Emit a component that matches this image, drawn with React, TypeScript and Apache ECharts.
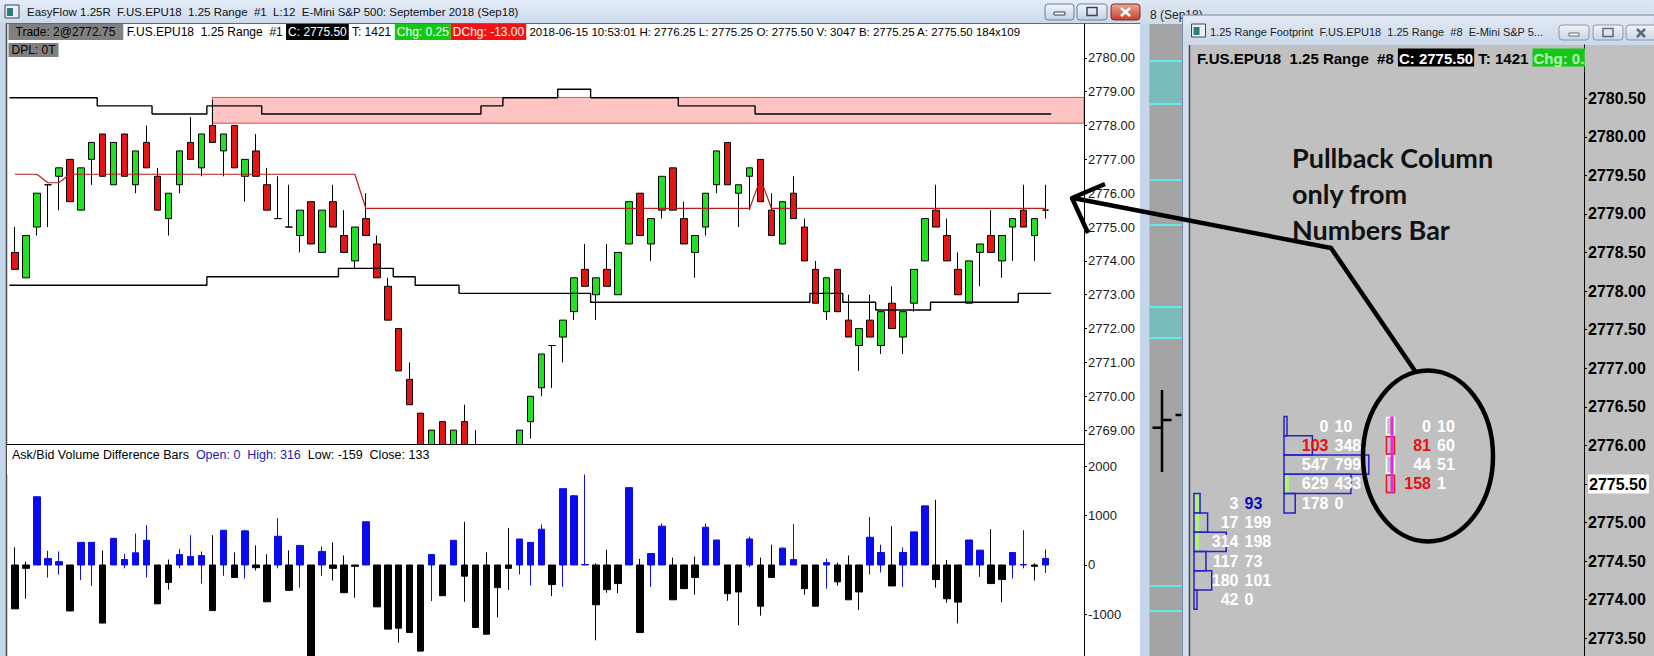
import React, { useEffect, useRef } from "react";
import * as echarts from "echarts";

// ================= DATA =================
// 1.25 range bars (main chart)
const OPEN = [2774.25, 2773.5, 2775.0, 2776.25, 2776.5, 2777.0, 2775.5, 2777.0, 2777.75, 2776.25,
  2777.75, 2776.25, 2777.5, 2776.5, 2775.25, 2776.25, 2777.5, 2776.75, 2778.0, 2777.25,
  2778.0, 2776.5, 2777.25, 2776.25, 2775.25, 2775.0, 2774.75, 2775.75, 2774.25, 2775.75,
  2774.75, 2774.0, 2775.25, 2774.5, 2773.25, 2772.0, 2770.5, 2769.5, 2768.0, 2769.25,
  2767.75, 2769.25, 2768.25, 2767.5, 2766.0, 2767.5, 2768.0, 2769.25, 2770.25, 2771.5,
  2771.75, 2772.5, 2773.75, 2773.0, 2773.75, 2773.0, 2774.5, 2776.0, 2774.5, 2775.5,
  2776.75, 2775.25, 2774.25, 2775.0, 2776.25, 2777.5, 2776.0, 2776.5, 2777.0, 2775.5,
  2774.5, 2776.0, 2775.0, 2773.75, 2772.5, 2773.75, 2772.25, 2771.5, 2772.25, 2771.5,
  2772.75, 2771.75, 2772.75, 2774.0, 2775.5, 2774.75, 2773.75, 2772.75, 2774.25, 2774.75,
  2774.0, 2775.0, 2775.5, 2774.75, 2775.5];
const CLOSE = [2773.75, 2774.75, 2776.0, 2776.25, 2776.75, 2775.75, 2776.75, 2777.5, 2776.5, 2777.5,
  2776.5, 2777.25, 2776.75, 2775.5, 2776.0, 2777.25, 2777.0, 2777.75, 2777.5, 2777.75,
  2776.75, 2777.0, 2776.5, 2775.5, 2775.25, 2775.0, 2775.5, 2774.5, 2775.5, 2775.0,
  2774.25, 2775.0, 2774.75, 2773.5, 2772.25, 2770.75, 2769.75, 2768.25, 2769.0, 2768.0,
  2769.0, 2768.5, 2767.75, 2766.25, 2767.25, 2768.5, 2769.0, 2770.0, 2771.25, 2771.5,
  2772.25, 2773.5, 2773.25, 2773.5, 2773.25, 2774.25, 2775.75, 2774.75, 2775.25, 2776.5,
  2775.5, 2774.5, 2774.75, 2776.0, 2777.25, 2776.25, 2776.25, 2776.75, 2775.75, 2774.75,
  2775.75, 2775.25, 2774.0, 2772.75, 2773.5, 2772.5, 2771.75, 2772.0, 2771.75, 2772.5,
  2772.0, 2772.5, 2773.75, 2775.25, 2775.0, 2774.0, 2773.0, 2774.0, 2774.5, 2774.25,
  2774.75, 2775.25, 2775.0, 2775.25, 2775.5];
const LOW = [2773.75, 2773.5, 2774.75, 2775.0, 2775.5, 2775.75, 2775.5, 2776.25, 2776.5, 2776.25,
  2776.5, 2776.0, 2776.75, 2775.5, 2774.75, 2776.0, 2777.0, 2776.5, 2777.5, 2776.5,
  2776.75, 2775.75, 2776.5, 2775.5, 2775.25, 2775.0, 2774.25, 2774.5, 2774.25, 2775.0,
  2774.25, 2773.75, 2774.75, 2773.5, 2772.25, 2770.75, 2769.75, 2768.25, 2767.75, 2768.0,
  2767.75, 2768.5, 2767.75, 2766.25, 2766.0, 2767.25, 2767.75, 2768.75, 2770.0, 2770.25,
  2771.0, 2772.25, 2773.25, 2772.25, 2773.25, 2773.0, 2774.5, 2774.75, 2774.0, 2775.25,
  2775.5, 2774.5, 2773.5, 2774.75, 2776.0, 2776.25, 2775.0, 2775.5, 2775.75, 2774.75,
  2774.5, 2775.25, 2774.0, 2772.75, 2772.25, 2772.5, 2771.75, 2770.75, 2771.75, 2771.25,
  2772.0, 2771.25, 2772.5, 2774.0, 2775.0, 2774.0, 2773.0, 2772.75, 2773.25, 2774.25,
  2773.5, 2774.0, 2775.0, 2774.0, 2775.25];
const HIGH = [2775.0, 2774.75, 2776.0, 2776.25, 2776.75, 2777.0, 2776.75, 2777.5, 2777.75, 2777.5,
  2777.75, 2777.25, 2778.0, 2776.75, 2776.0, 2777.25, 2778.25, 2777.75, 2778.75, 2777.75,
  2778.0, 2777.0, 2777.75, 2776.75, 2776.5, 2776.25, 2775.5, 2775.75, 2775.5, 2776.25,
  2775.5, 2775.0, 2776.0, 2774.75, 2773.5, 2772.0, 2771.0, 2769.5, 2769.0, 2769.25,
  2769.0, 2769.75, 2769.0, 2767.5, 2767.25, 2768.5, 2769.0, 2770.0, 2771.25, 2771.5,
  2772.25, 2773.5, 2774.5, 2773.5, 2774.5, 2774.25, 2775.75, 2776.0, 2775.25, 2776.5,
  2776.75, 2775.75, 2774.75, 2776.0, 2777.25, 2777.5, 2776.25, 2776.75, 2777.0, 2776.0,
  2775.75, 2776.5, 2775.25, 2774.0, 2773.5, 2773.75, 2773.0, 2772.0, 2773.0, 2772.5,
  2773.25, 2772.5, 2773.75, 2775.25, 2776.25, 2775.25, 2774.25, 2774.0, 2774.5, 2775.5,
  2774.75, 2775.25, 2776.25, 2775.25, 2776.25];

// overlay levels, stored as runs [level, number of bars]
const UPPER_BAND_RUNS = [[2778.82, 8], [2778.58, 5], [2778.34, 5], [2778.58, 5], [2778.34, 20], [2778.58, 2],
  [2778.82, 5], [2779.07, 3], [2778.82, 8], [2778.58, 7], [2778.34, 27]];
const LOWER_BAND_RUNS = [[2773.28, 18], [2773.53, 12], [2773.78, 5], [2773.53, 2], [2773.28, 4], [2773.04, 12],
  [2772.78, 20], [2773.04, 3], [2772.78, 3], [2772.55, 5], [2772.78, 8], [2773.04, 3]];
const MID_LINE_RUNS = [[2776.56, 3], [2776.31, 2], [2776.56, 27], [2775.55, 36], [2776.42, 1], [2775.55, 26]];
const ZONE_START_BAR = [18];
const ZONE_PRICES = [2778.83, 2778.07];

// Ask/Bid volume difference bars
const VD_CLOSE = [-890, -68, 1384, 130, 68, -932, 459, 459, -1178, 541,
  110, 247, 500, -788, -356, 212, 171, 192, -925, 705,
  -253, 692, -55, -747, 582, -514, 397, -1950, 274, -68,
  -562, -27, 877, -849, -1301, -1281, -1370, -1747, 212, -623,
  500, -226, -1267, -1404, -459, -68, 527, 459, 726, -397,
  1548, 1404, 10, -808, -500, -377, 1569, -1370, 233, 788,
  -706, -480, -253, 767, 507, -582, -548, 527, -836, -253,
  342, 110, -480, -836, 48, -342, -706, -548, 562, 253,
  -425, 253, 671, 1199, -295, -685, -753, 507, 301, -377,
  -295, 253, 10, -27, 133];
const VD_HIGH = [356, 68, 1384, 288, 274, 0, 459, 459, 295, 541,
  226, 637, 808, 0, 110, 329, 603, 274, 603, 705,
  253, 712, 397, 219, 952, 295, 397, 0, 377, 459,
  192, 0, 877, 0, 0, 0, 0, 0, 212, 0,
  500, 877, 0, 253, 0, 753, 527, 459, 822, 0,
  1548, 1418, 1836, 34, 308, 0, 1569, 123, 233, 842,
  151, 0, 171, 842, 507, 0, 0, 575, 151, 411,
  356, 829, 0, 0, 130, 48, 192, 0, 973, 411,
  788, 356, 671, 1199, 1322, 103, 0, 507, 301, 726,
  0, 253, 705, 34, 316];
const VD_LOW = [-890, -685, 0, -253, -192, -932, -308, -425, -1178, 0,
  -68, 0, -253, -788, -500, -68, 0, -377, -925, -219,
  -253, -274, -110, -747, -68, -514, -459, -1950, -219, -315,
  -562, -664, 0, -849, -1301, -1575, -1370, -1747, -733, -623,
  0, -747, -1267, -1404, -1062, -507, -192, -411, 0, -630,
  -445, 0, 0, -1528, -562, -569, 0, -1370, -445, 0,
  -706, -480, -603, 0, 0, -726, -1219, -41, -1028, -253,
  0, 0, -603, -836, -480, -418, -706, -911, -192, -151,
  -425, -445, 0, 0, -459, -767, -1185, 0, -240, -377,
  -753, -274, -68, -315, -159];

// tick labels
const PRICE_TICKS = [2769, 2770, 2771, 2772, 2773, 2774, 2775, 2776, 2777, 2778, 2779, 2780];
const VD_TICKS = [-1000, 0, 1000, 2000];
const FP_TICKS = [2773.5, 2774, 2774.5, 2775, 2775.5, 2776, 2776.5, 2777, 2777.5, 2778, 2778.5, 2779, 2779.5, 2780, 2780.5];

// footprint window (bid x ask per price)
const FP1_PRICES = [2775.25, 2775.0, 2774.75, 2774.5, 2774.25, 2774.0];
const FP1_BID = [3, 17, 314, 117, 180, 42];
const FP1_ASK = [93, 199, 198, 73, 101, 0];
const FP2_PRICES = [2776.25, 2776.0, 2775.75, 2775.5, 2775.25];
const FP2_BID = [0, 103, 547, 629, 178];
const FP2_ASK = [10, 348, 799, 433, 0];
const FP3_PRICES = [2776.25, 2776.0, 2775.75, 2775.5];
const FP3_BID = [0, 81, 44, 158];
const FP3_ASK = [10, 60, 51, 1];

// ================= LAYOUT / STYLE =================
const N = OPEN.length;
const SLOTS = 98;
const TICK = 0.25;
const VOL_PX = 0.063;
const FP_LEFT = 1190;
const FP_W = 394;
const FONT = '"Liberation Sans", Arial, sans-serif';
const UP = "#22e022";
const DOWN = "#e41515";
const VD_BLUE = "#0b0bf0";
const RED_TXT = "#e81010";
const BLUE_TXT = "#0a0ab8";

const expand = (runs: number[][]) => runs.flatMap(([v, n]) => Array(n).fill(v));
const stepPts = (vals: number[]) => vals.flatMap((v, i) => [[i - 0.5, v], [i + 0.5, v]]);
const f2 = (v: number) => v.toFixed(2);

function buildColumn(prices: number[], bids: number[], asks: number[], x: number, bar: number, pull: boolean) {
  return prices.map((p, i) => {
    const bidImb = bids[i] > 0 && i > 0 && bids[i] >= 3 * asks[i - 1];
    const askImb = asks[i] > 0 && i < prices.length - 1 && asks[i] >= 3 * bids[i + 1];
    let body = false;
    if (bar >= 0) {
      const lo = Math.min(OPEN[bar], CLOSE[bar]);
      const hi = Math.max(OPEN[bar], CLOSE[bar]);
      body = CLOSE[bar] >= OPEN[bar] && p >= lo && p <= hi;
    }
    return {
      price: p, bid: bids[i], ask: asks[i], x, pull, body,
      bidColor: bidImb ? RED_TXT : "#ffffff",
      askColor: askImb ? BLUE_TXT : "#ffffff",
    };
  });
}

function buildOption() {
  const cats = Array.from({ length: SLOTS }, (_, i) => String(i + 1));
  const candleData = OPEN.map((o, i) => [o, CLOSE[i], LOW[i], HIGH[i]]);
  const vdData = VD_CLOSE.map((c, i) => [0, c, VD_LOW[i], VD_HIGH[i]]);
  const upper = expand(UPPER_BAND_RUNS);
  const lower = expand(LOWER_BAND_RUNS);
  const mid = expand(MID_LINE_RUNS);
  const last = N - 1;
  const lastVol = FP2_BID.concat(FP2_ASK).reduce((a, b) => a + b, 0);

  const cells = [
    ...buildColumn(FP1_PRICES, FP1_BID, FP1_ASK, 4, N - 2, false),
    ...buildColumn(FP2_PRICES, FP2_BID, FP2_ASK, 94, N - 1, false),
    ...buildColumn(FP3_PRICES, FP3_BID, FP3_ASK, 196.5, -1, true),
  ];
  const fpFont = `bold 16px ${FONT}`;

  const grad = (a: string, b: string) =>
    new echarts.graphic.LinearGradient(0, 0, 0, 1, [{ offset: 0, color: a }, { offset: 1, color: b }]);
  const rect = (x: number, y: number, w: number, h: number, style: any, z = 0, r = 0) =>
    ({ type: "rect", shape: { x, y, width: w, height: h, r }, style, z, silent: true });
  const line = (x1: number, y1: number, x2: number, y2: number, stroke: string, lineWidth = 1, z = 1) =>
    ({ type: "line", shape: { x1, y1, x2, y2 }, style: { stroke, lineWidth }, z, silent: true });
  const txt = (x: number, y: number, text: string, font: string, fill: string, z = 50, extra: any = {}) =>
    ({ type: "text", x, y, style: { text, font, fill, verticalAlign: "middle", ...extra }, z, silent: true });

  const btn = (x: number, y: number, w: number, h: number, fill: any, stroke: string) =>
    rect(x, y, w, h, { fill, stroke, lineWidth: 1 }, 3, 3);

  const hdrFont = `12px ${FONT}`;
  const dateFont = `11.5px ${FONT}`;
  const box = (bg: string, fg: string) => ({ backgroundColor: bg, fill: fg, padding: [2, 2, 2, 2], font: hdrFont, lineHeight: 12 });
  const hdrBold = `bold 15px ${FONT}`;
  const boxB = (bg: string, fg: string) => ({ backgroundColor: bg, fill: fg, padding: [2, 1, 1, 1], font: hdrBold, lineHeight: 15 });
  const annFont = `bold 27px Lato, ${FONT}`;

  const cyanLines = [61, 104, 180, 225, 307, 338, 586, 611];

  const graphic: any[] = [
    // main window frame + background windows
    rect(0, 0, 1654, 656, { fill: "#c6d6ea" }, 0),
    rect(0, 0, 1142, 24, { fill: grad("#e4edf8", "#c9d9ed") }, 0),
    rect(1142, 0, 512, 24, { fill: grad("#dde6f1", "#cfdbea") }, 0),
    txt(1150, 15, "8 (Sep18)", `12px ${FONT}`, "#222", 1),
    rect(7, 24, 1133, 632, { fill: "#ffffff" }, 0),
    line(6.5, 23, 6.5, 656, "#4a4a4a", 1.5, 1),
    line(6, 23.5, 1140, 23.5, "#6a6a6a", 1, 1),
    // title bar (main)
    rect(5, 5, 14, 13, { fill: "#e8eef4", stroke: "#445", lineWidth: 1 }, 2),
    rect(7, 8, 6, 8, { fill: "#2f7d78" }, 2),
    txt(27, 12, "EasyFlow 1.25R  F.US.EPU18  1.25 Range  #1  L:12  E-Mini S&P 500: September 2018 (Sep18)", `11.5px ${FONT}`, "#111", 2),
    btn(1045, 4, 29, 16, grad("#f3f6fa", "#c2d0e3"), "#6d7f99"),
    rect(1054, 12, 11, 3, { fill: "#fff", stroke: "#34455c", lineWidth: 1 }, 4),
    btn(1077, 4, 30, 16, grad("#f3f6fa", "#c2d0e3"), "#6d7f99"),
    rect(1087, 7.5, 10, 8, { fill: "none", stroke: "#34455c", lineWidth: 1.5 }, 4),
    btn(1111, 4, 29, 16, grad("#eaa89a", "#c2412d"), "#7b2b20"),
    line(1121, 8, 1130, 16, "#fff", 2.5, 4),
    line(1130, 8, 1121, 16, "#fff", 2.5, 4),
    // gray strip (background chart window)
    rect(1149.5, 24, 33, 632, { fill: "#a4a4a4" }, 1),
    rect(1149.5, 61, 33, 43, { fill: "#7abcbc" }, 1),
    rect(1149.5, 307, 33, 31, { fill: "#7abcbc" }, 1),
    ...cyanLines.map((y) => line(1149.5, y, 1182.5, y, "#66e8e8", 2, 2)),
    line(1162, 390, 1162, 472, "#000", 2.5, 2),
    line(1152.5, 427.7, 1162, 427.7, "#000", 2.5, 2),
    line(1162, 420, 1171.5, 420, "#000", 2.5, 2),
    line(1175.5, 415, 1181.5, 415, "#000", 2.5, 2),
    // right (footprint) window
    rect(1182.5, 15, 480, 650, { fill: "#cfdcec", stroke: "#7d8fa8", lineWidth: 1 }, 3),
    rect(1183.5, 16, 470, 29, { fill: grad("#e2eaf5", "#cad8ea") }, 3),
    rect(FP_LEFT, 45, 464, 611, { fill: "#c0c0c0" }, 3),
    line(FP_LEFT - 0.5, 45, FP_LEFT - 0.5, 656, "#4a4a4a", 1.5, 4),
    rect(1191.5, 24, 14, 13, { fill: "#e8eef4", stroke: "#445", lineWidth: 1 }, 4),
    rect(1193.5, 27, 6, 8, { fill: "#2f7d78" }, 4),
    txt(1210, 32, "1.25 Range Footprint  F.US.EPU18  1.25 Range  #8  E-Mini S&P 5...", `11px ${FONT}`, "#222", 4),
    btn(1559, 25, 30, 15, grad("#f1f4f8", "#cbd6e4"), "#8a98ac"),
    rect(1569, 33, 10, 3, { fill: "#fff", stroke: "#5a6a80", lineWidth: 1 }, 5),
    btn(1593, 25, 30, 15, grad("#f1f4f8", "#cbd6e4"), "#8a98ac"),
    rect(1603, 28.5, 10, 8, { fill: "none", stroke: "#5a6a80", lineWidth: 1.5 }, 5),
    btn(1626, 25, 34, 15, grad("#f1f4f8", "#cbd6e4"), "#8a98ac"),
    line(1637, 29, 1645, 37, "#5a6a80", 2.5, 5),
    line(1645, 29, 1637, 37, "#5a6a80", 2.5, 5),
    // pane separator + cover for bars falling below the price pane
    rect(7, 444.5, 1076.5, 30, { fill: "#ffffff" }, 2.5),
    line(7, 444.5, 1084, 444.5, "#000", 1, 6),
    // headers
    {
      type: "text", x: 8.5, y: 26, z: 50, silent: true,
      style: {
        text: `{tr|Trade: 2@2772.75}{n| F.US.EPU18  1.25 Range  #1 }{c|C: ${f2(CLOSE[last])}}{n| T: 1421 }{g|Chg: 0.25}{r|DChg: -13.00}{d| 2018-06-15 10:53:01 H: ${f2(HIGH[last])} L: ${f2(LOW[last])} O: ${f2(OPEN[last])} V: ${lastVol} B: 2775.25 A: 2775.50 184x109}`,
        font: hdrFont, fill: "#000", verticalAlign: "top",
        rich: {
          tr: { backgroundColor: "#808080", fill: "#000", padding: [2, 8, 2, 7], font: hdrFont, lineHeight: 12 },
          n: { fill: "#000", padding: [2, 0, 2, 0], font: hdrFont, lineHeight: 12 },
          d: { fill: "#000", padding: [2, 0, 2, 0], font: dateFont, lineHeight: 12 },
          c: box("#000", "#fff"),
          g: box("#16c816", "#fff"),
          r: box("#f21212", "#fff"),
        },
      },
    },
    {
      type: "text", x: 8.5, y: 44, z: 50, silent: true,
      style: {
        text: "{d|DPL: 0T}", font: hdrFont, fill: "#000", verticalAlign: "top",
        rich: { d: { backgroundColor: "#808080", fill: "#000", padding: [1, 3, 1, 3], font: hdrFont, lineHeight: 12 } },
      },
    },
    {
      type: "text", x: 12, y: 455, z: 50, silent: true,
      style: {
        text: `{k|Ask/Bid Volume Difference Bars  }{b|Open: 0  High: ${VD_HIGH[last]}  }{k|Low: ${VD_LOW[last]}  Close: ${VD_CLOSE[last]}}`,
        font: `12.5px ${FONT}`, fill: "#000", verticalAlign: "middle",
        rich: { k: { fill: "#000", font: `12.5px ${FONT}` }, b: { fill: "#1c1cb4", font: `12.5px ${FONT}` } },
      },
    },
    {
      type: "text", x: 1197, y: 50, z: 50, silent: true,
      style: {
        text: `{n|F.US.EPU18  1.25 Range  #8 }{c|C: ${f2(CLOSE[last])}}{n| T: 1421 }{g|Chg: 0.25}`,
        font: hdrBold, fill: "#000", verticalAlign: "top",
        rich: {
          n: { fill: "#000", padding: [2, 0, 1, 0], font: hdrBold, lineHeight: 15 },
          c: boxB("#000", "#fff"),
          g: boxB("#16c816", "#b8f5b8"),
        },
      },
    },
    rect(FP_LEFT + FP_W + 0.8, 46, 80, 26, { fill: "#c0c0c0" }, 51),
    // annotation
    txt(1292, 157, "Pullback Column", annFont, "#111", 60),
    txt(1292, 193, "only from", annFont, "#111", 60),
    txt(1292, 229, "Numbers Bar", annFont, "#111", 60),
    { type: "ellipse", shape: { cx: 1428, cy: 456, rx: 65, ry: 85.5 }, style: { fill: "none", stroke: "#000", lineWidth: 4.5 }, z: 60, silent: true },
    { type: "polyline", shape: { points: [[1415, 371], [1331, 248], [1073, 198]] }, style: { fill: "none", stroke: "#000", lineWidth: 4.5, lineJoin: "round" }, z: 60, silent: true },
    { type: "polyline", shape: { points: [[1105, 184], [1072, 198], [1088, 233]] }, style: { fill: "none", stroke: "#000", lineWidth: 4.5, lineJoin: "round" }, z: 60, silent: true },
  ];

  const axisCommon = (ticks: number[], fmt: (v: number) => string, label: any = {}) => ({
    type: "value",
    position: "right",
    z: 5,
    axisLine: { show: true, onZero: false, lineStyle: { color: "#000", width: 1 } },
    axisTick: { show: true, length: 3, customValues: ticks, lineStyle: { color: "#000" } },
    axisLabel: { customValues: ticks, formatter: fmt, margin: 4, fontSize: 13, fontFamily: FONT, color: "#1a1a1a", ...label },
    splitLine: { show: false },
  });

  return {
    animation: false,
    grid: [
      { left: 9.5, top: 24, width: 1074.5, height: 420, outerBoundsMode: "none", containLabel: false },
      { left: 9.5, top: 444, width: 1074.5, height: 212, outerBoundsMode: "none", containLabel: false },
      { left: FP_LEFT, top: 45, width: FP_W, height: 611, outerBoundsMode: "none", containLabel: false },
    ],
    xAxis: [
      { type: "category", gridIndex: 0, data: cats, show: false },
      { type: "value", gridIndex: 0, min: -0.5, max: SLOTS - 0.5, show: false },
      { type: "category", gridIndex: 1, data: cats, show: false },
      { type: "value", gridIndex: 2, min: 0, max: FP_W, show: false },
    ],
    yAxis: [
      { ...axisCommon(PRICE_TICKS, (v: number) => f2(v)), gridIndex: 0, min: 2768.59, max: 2781.0 },
      { ...axisCommon(VD_TICKS, (v: number) => String(v)), gridIndex: 1, min: -1846, max: 2454 },
      {
        ...axisCommon(FP_TICKS, (v: number) => (v === CLOSE[last] ? `{hl|${f2(v)}}` : f2(v)), {
          fontSize: 16, fontWeight: "bold", color: "#000",
          rich: { hl: { backgroundColor: "#fff", padding: [2, 2, 1, 1], fontSize: 16, fontWeight: "bold", fontFamily: FONT, color: "#000" } },
        }),
        gridIndex: 2, min: 2773.27, max: 2781.19,
      },
    ],
    graphic,
    series: [
      {
        type: "line", xAxisIndex: 1, yAxisIndex: 0, z: 1, silent: true,
        data: [[ZONE_START_BAR[0], ZONE_PRICES[0]]], symbol: "none", lineStyle: { opacity: 0 },
        markArea: {
          silent: true,
          itemStyle: { color: "#ffc4c4", borderColor: "#d65050", borderWidth: 1 },
          data: [[{ coord: [ZONE_START_BAR[0], ZONE_PRICES[0]] }, { coord: [SLOTS - 0.5, ZONE_PRICES[1]] }]],
        },
      },
      {
        type: "candlestick", xAxisIndex: 0, yAxisIndex: 0, z: 2, silent: true, clip: true,
        data: candleData, barWidth: 7,
        itemStyle: { color: UP, color0: DOWN, borderColor: "#000", borderColor0: "#000", borderWidth: 1 },
        markLine: {
          silent: true, symbol: ["none", "none"],
          lineStyle: { opacity: 0 },
          label: { show: true, position: "end", distance: 2, formatter: f2(CLOSE[last]), color: "#fff", backgroundColor: "#000", padding: [2, 2, 1, 2], fontSize: 13, fontFamily: FONT },
          data: [{ yAxis: CLOSE[last] }],
        },
      },
      {
        type: "line", xAxisIndex: 1, yAxisIndex: 0, z: 3, silent: true, symbol: "none",
        data: stepPts(upper), lineStyle: { color: "#000", width: 1.4 },
      },
      {
        type: "line", xAxisIndex: 1, yAxisIndex: 0, z: 3, silent: true, symbol: "none",
        data: stepPts(lower), lineStyle: { color: "#000", width: 1.4 },
      },
      {
        type: "line", xAxisIndex: 1, yAxisIndex: 0, z: 3, silent: true, symbol: "none",
        data: mid.map((v, i) => [i, v]), lineStyle: { color: "#b51f1f", width: 1.2 },
      },
      {
        type: "candlestick", xAxisIndex: 2, yAxisIndex: 1, z: 4, silent: true, clip: true,
        data: vdData, barWidth: 7,
        itemStyle: { color: VD_BLUE, color0: "#000", borderColor: VD_BLUE, borderColor0: "#000", borderWidth: 1 },
        markLine: {
          silent: true, symbol: ["none", "none"],
          lineStyle: { opacity: 0 },
          label: { show: true, position: "end", distance: 2, formatter: String(VD_CLOSE[last]), color: "#fff", backgroundColor: "#000", padding: [2, 2, 1, 2], fontSize: 13, fontFamily: FONT },
          data: [{ yAxis: VD_CLOSE[last] }],
        },
      },
      {
        type: "custom", xAxisIndex: 3, yAxisIndex: 2, z: 10, silent: true,
        data: cells.map((c) => [c.x, c.price]),
        renderItem: (params: any, api: any) => {
          const c = cells[params.dataIndex];
          const width = c.pull ? 8 : Math.max((c.bid + c.ask) * VOL_PX, 3);
          const tl = api.coord([c.x, c.price + TICK / 2]);
          const br = api.coord([c.x + width, c.price - TICK / 2]);
          const mid = api.coord([c.x + 47.5, c.price]);
          const h = br[1] - tl[1];
          const children: any[] = [];
          if (c.body) children.push({ type: "rect", shape: { x: tl[0], y: tl[1], width: 5, height: h }, style: { fill: "#b6f07c" } });
          if (c.pull) {
            children.push({ type: "rect", shape: { x: tl[0], y: tl[1] + 1, width: br[0] - tl[0], height: h - 2 }, style: { fill: "none", stroke: c.bidColor === RED_TXT ? "#e01818" : "#ffffff", lineWidth: 1.5 } });
            children.push({ type: "line", shape: { x1: tl[0] + 5.5, y1: tl[1], x2: tl[0] + 5.5, y2: br[1] }, style: { stroke: "#e428e4", lineWidth: 3 } });
          } else {
            children.push({ type: "rect", shape: { x: tl[0], y: tl[1], width: br[0] - tl[0], height: h }, style: { fill: "none", stroke: "#2222c8", lineWidth: 1.5 } });
          }
          children.push({ type: "text", style: { text: String(c.bid), x: mid[0] - 3, y: mid[1], fill: c.bidColor, font: fpFont, align: "right", verticalAlign: "middle" } });
          children.push({ type: "text", style: { text: String(c.ask), x: mid[0] + 3, y: mid[1], fill: c.askColor, font: fpFont, align: "left", verticalAlign: "middle" } });
          return { type: "group", children };
        },
      },
    ],
  };
}

export default function App() {
  const ref = useRef<HTMLDivElement>(null);
  useEffect(() => {
    if (!ref.current) return;
    const chart = echarts.init(ref.current, null, { renderer: "svg" });
    chart.setOption(buildOption() as any);
    return () => chart.dispose();
  }, []);
  return <div ref={ref} style={{ position: "absolute", left: 0, top: 0, width: 1654, height: 656 }} />;
}
